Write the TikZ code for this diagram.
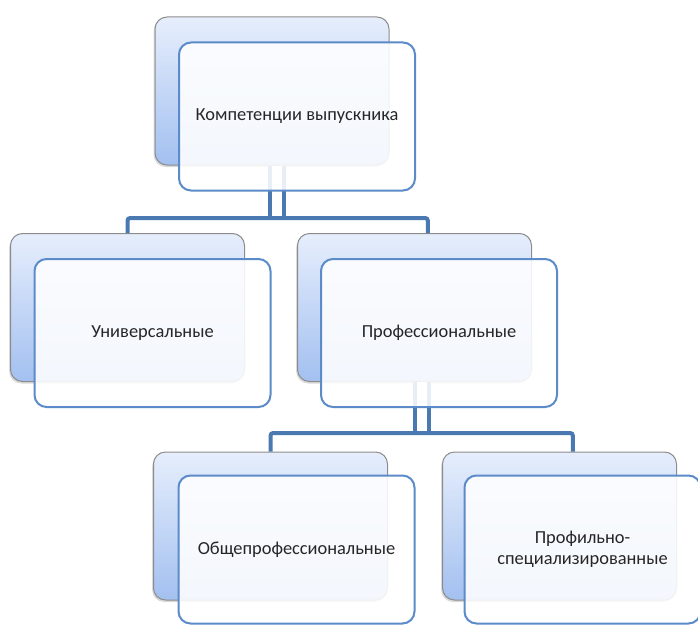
\documentclass[tikz,border=0pt]{standalone}
\usepackage{fontspec}
\setmainfont{Carlito}
\usetikzlibrary{shadows}
\definecolor{linkblue}{HTML}{4A78B0}
\definecolor{frontblue}{HTML}{5B8BC8}
\definecolor{backtop}{HTML}{E6EEFC}
\definecolor{backbot}{HTML}{A3C0F0}
\tikzset{
  backbox/.style={draw=gray!90, line width=0.75pt, rounded corners=9pt,
    top color=backtop, bottom color=backbot,
    minimum width=175.5pt, minimum height=111pt,
    drop shadow={shadow xshift=-1pt, shadow yshift=-1.5pt, opacity=0.3}},
  frontbox/.style={draw=frontblue, line width=1.5pt, rounded corners=9pt,
    fill=white, fill opacity=0.88, text opacity=1,
    minimum width=177pt, minimum height=111pt, align=center,
    text=black!85, font=\fontsize{13.8}{16}\selectfont},
  link/.style={draw=linkblue, line width=3pt, rounded corners=2pt},
  twin/.style={draw=linkblue, line width=3pt, double=white, double distance=7.5pt}
}
\begin{document}
\begin{tikzpicture}[x=0.75pt,y=-0.75pt]
  \useasboundingbox (0,0) rectangle (698,624);
  % back layer
  \node[backbox] (topback) at (272,91) {};
  \node[backbox] (leftback) at (127.5,307.5) {};
  \node[backbox] (midback) at (414.5,307.5) {};
  \node[backbox] (lowleftback) at (270.5,526) {};
  \node[backbox] (lowrightback) at (559.5,526) {};
  % connectors
  \coordinate (topjoin) at (277,218);
  \coordinate (midjoin) at (421.5,433);
  \draw[twin] (topjoin |- topback.south) -- (topjoin);
  \draw[link] (leftback.north) |- (topjoin) -| ([xshift=10pt]midback.north);
  \draw[twin] (midjoin |- midback.south) -- (midjoin);
  \draw[link] (lowleftback.north) |- (midjoin) -| ([xshift=10pt]lowrightback.north);
  % front layer
  \node[frontbox] (topfront) at (297,116.5) {Компетенции выпускника};
  \node[frontbox] (leftfront) at (152.5,333) {Универсальные};
  \node[frontbox] (midfront) at (439,333) {Профессиональные};
  \node[frontbox] (lowleftfront) at (296.5,549.5) {Общепрофессиональные};
  \node[frontbox] (lowrightfront) at (582.5,549.5) {Профильно-\\специализированные};
\end{tikzpicture}
\end{document}
